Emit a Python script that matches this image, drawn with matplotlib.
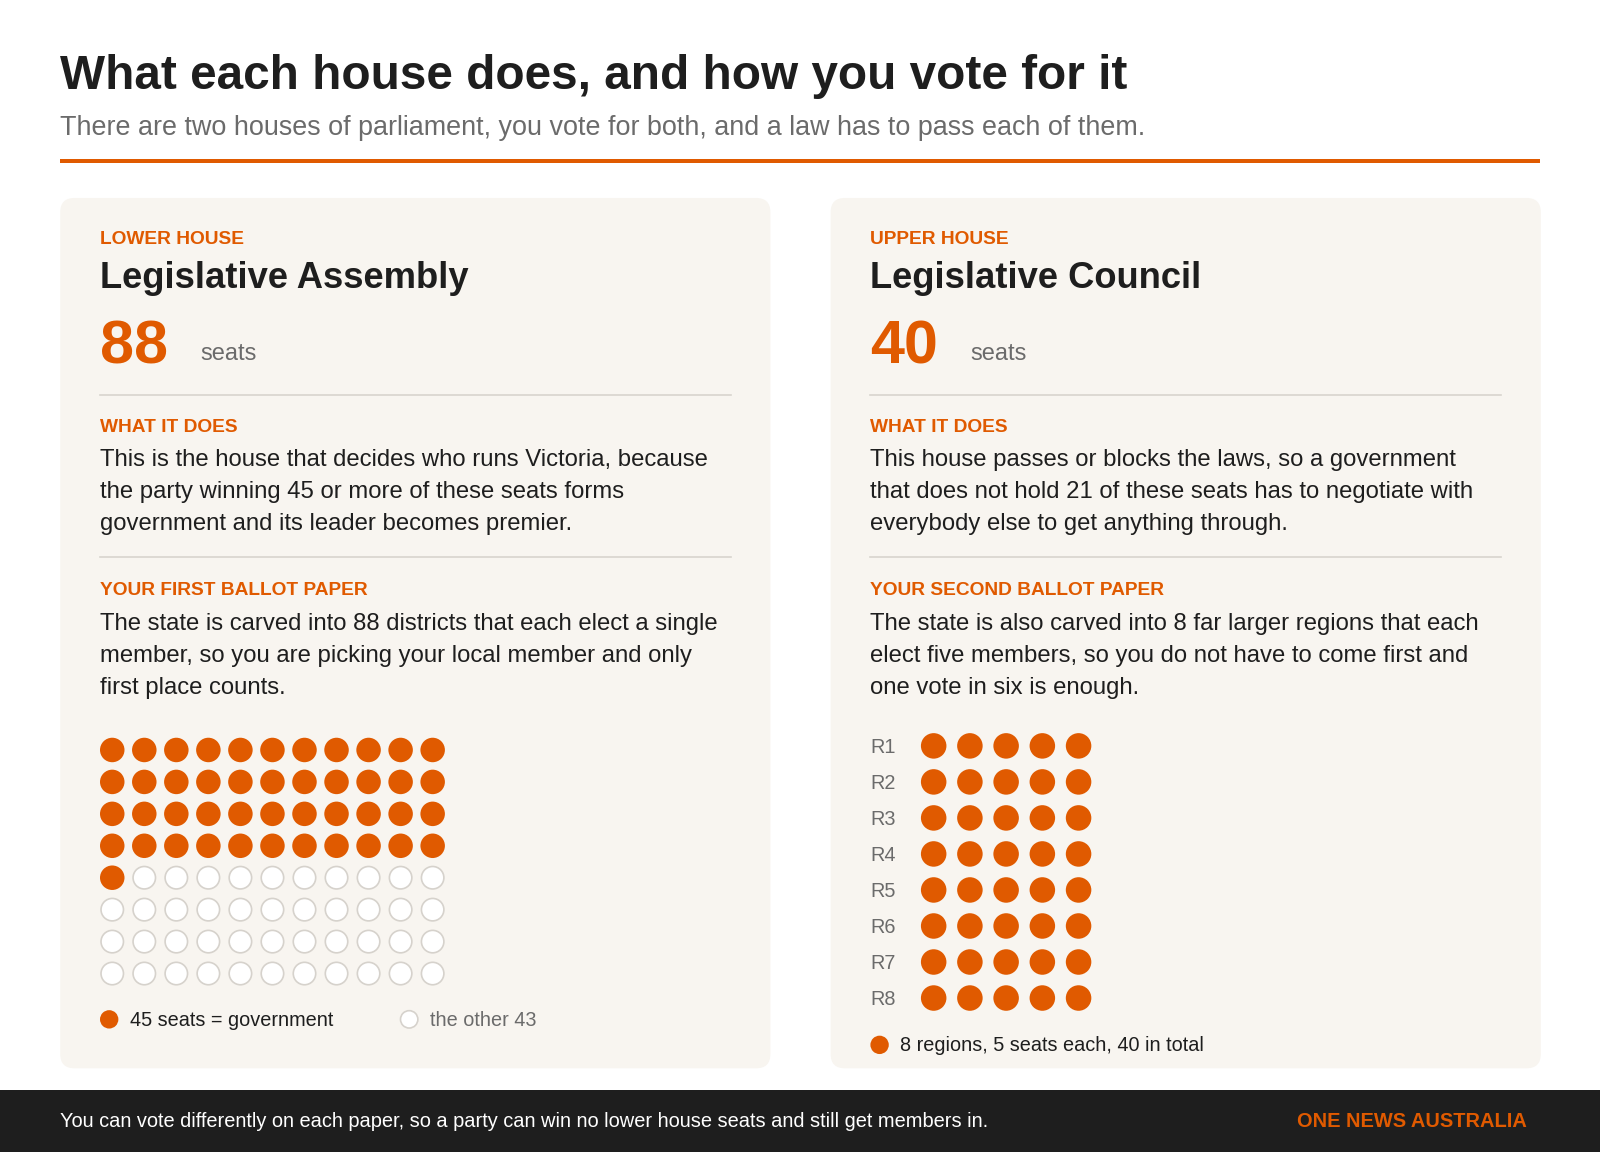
import matplotlib
matplotlib.use('Agg')
import matplotlib.pyplot as plt
from matplotlib.patches import FancyBboxPatch, Circle, Rectangle

ORANGE = '#e05a00'
DARK = '#1e1e1e'
GREY = '#6b6b6b'
PANEL = '#f8f5f0'

# data
lower_total = 88
lower_majority = 45
lower_cols = 11
regions = ['R1', 'R2', 'R3', 'R4', 'R5', 'R6', 'R7', 'R8']
seats_per_region = 5

plt.rcParams['font.family'] = ['Liberation Sans', 'DejaVu Sans']

fig = plt.figure(figsize=(16, 11.52), dpi=100)
ax = fig.add_axes([0, 0, 1, 1])
ax.set_xlim(0, 1568)
ax.set_ylim(1129, 0)
ax.axis('off')
fig.patch.set_facecolor('white')

ax.text(59, 75, 'What each house does, and how you vote for it', fontsize=34.4, weight='bold',
        color=DARK, va='center')
ax.text(59, 125, 'There are two houses of parliament, you vote for both, and a law has to pass each of them.',
        fontsize=19.4, color=GREY, va='center')
ax.add_patch(Rectangle((59, 156), 1450, 4, color=ORANGE, lw=0))

panels = [
    (59, 'LOWER HOUSE', 'Legislative Assembly', '88',
     ['This is the house that decides who runs Victoria, because',
      'the party winning 45 or more of these seats forms',
      'government and its leader becomes premier.'],
     'YOUR FIRST BALLOT PAPER',
     ['The state is carved into 88 districts that each elect a single',
      'member, so you are picking your local member and only',
      'first place counts.']),
    (814, 'UPPER HOUSE', 'Legislative Council', '40',
     ['This house passes or blocks the laws, so a government',
      'that does not hold 21 of these seats has to negotiate with',
      'everybody else to get anything through.'],
     'YOUR SECOND BALLOT PAPER',
     ['The state is also carved into 8 far larger regions that each',
      'elect five members, so you do not have to come first and',
      'one vote in six is enough.']),
]
for x0, kicker, name, seats, does, ballot, ballot_txt in panels:
    ax.add_patch(FancyBboxPatch((x0, 194), 696, 853, boxstyle='round,pad=0,rounding_size=14',
                                fc=PANEL, ec='none'))
    tx = x0 + 39
    ax.text(tx, 235, kicker, fontsize=13.8, weight='bold', color=ORANGE, va='center')
    ax.text(tx, 273, name, fontsize=26.2, weight='bold', color=DARK, va='center')
    ax.text(tx, 341, seats, fontsize=44, weight='bold', color=ORANGE, va='center')
    ax.text(tx + 98, 347, 'seats', fontsize=17, color=GREY, va='center')
    ax.plot([tx, tx + 618], [387, 387], color='#d8d4ce', lw=1.2)
    ax.text(tx, 419, 'WHAT IT DOES', fontsize=13.8, weight='bold', color=ORANGE, va='center')
    for k, line in enumerate(does):
        ax.text(tx, 451 + k * 31.3, line, fontsize=17.2, color=DARK, va='center')
    ax.plot([tx, tx + 618], [546, 546], color='#d8d4ce', lw=1.2)
    ax.text(tx, 579, ballot, fontsize=13.8, weight='bold', color=ORANGE, va='center')
    for k, line in enumerate(ballot_txt):
        ax.text(tx, 612 + k * 31.3, line, fontsize=17.2, color=DARK, va='center')

# lower house dots
for i in range(lower_total):
    r, c = divmod(i, lower_cols)
    cx, cy = 110 + c * 31.4, 735 + r * 31.3
    if i < lower_majority:
        ax.add_patch(Circle((cx, cy), 12, fc=ORANGE, ec='none'))
    else:
        ax.add_patch(Circle((cx, cy), 11, fc='white', ec='#d6d2cc', lw=1.2))
ax.add_patch(Circle((107, 999), 9, fc=ORANGE, ec='none'))
ax.text(127, 1000, '45 seats = government', fontsize=14.3, color=DARK, va='center')
ax.add_patch(Circle((401, 999), 8.5, fc='white', ec='#d6d2cc', lw=1.2))
ax.text(421, 1000, 'the other 43', fontsize=14.3, color=GREY, va='center')

# upper house dots
for r, reg in enumerate(regions):
    cy = 731 + r * 35.3
    ax.text(853, cy + 1.5, reg, fontsize=14.3, color=GREY, va='center')
    for c in range(seats_per_region):
        ax.add_patch(Circle((915 + c * 35.5, cy), 12.5, fc=ORANGE, ec='none'))
ax.add_patch(Circle((862, 1024), 9, fc=ORANGE, ec='none'))
ax.text(882, 1025, '8 regions, 5 seats each, 40 in total', fontsize=14.3, color=DARK, va='center')

# footer
ax.add_patch(Rectangle((0, 1068), 1568, 61, color=DARK, lw=0))
ax.text(59, 1099, 'You can vote differently on each paper, so a party can win no lower house seats and still get members in.',
        fontsize=14.4, color='white', va='center')
ax.text(1496, 1099, 'ONE NEWS AUSTRALIA', fontsize=14.4, weight='bold', color=ORANGE, va='center', ha='right')

fig.savefig('out.png', dpi=100)
